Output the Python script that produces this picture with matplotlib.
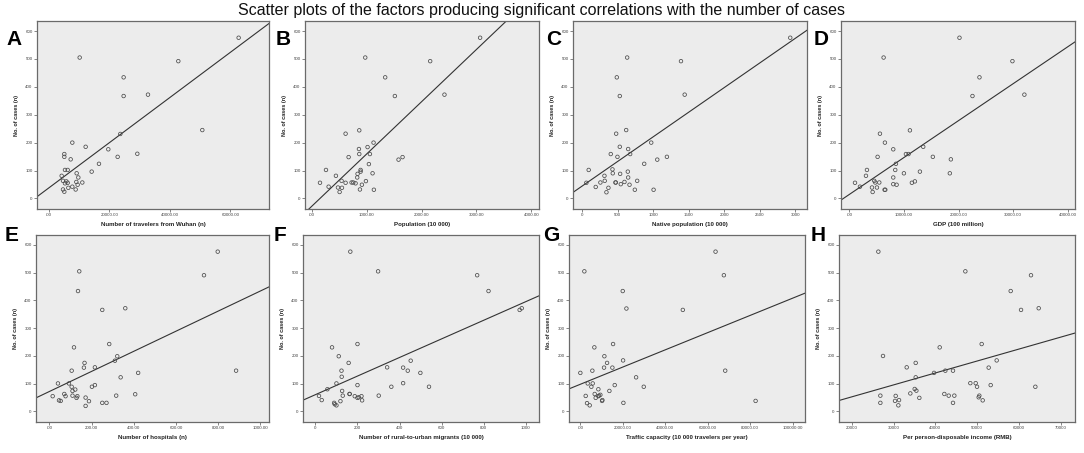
import matplotlib
matplotlib.use("Agg")
import matplotlib.pyplot as plt
import numpy as np

plt.rcParams['font.family'] = ['Liberation Sans', 'DejaVu Sans']

title = "Scatter plots of the factors producing significant correlations with the number of cases"
y_label = "No. of cases (n)"
panel_letters = ["A", "B", "C", "D", "E", "F", "G", "H"]
x_labels = [
    "Number of travelers from Wuhan (n)",
    "Population (10 000)",
    "Native population (10 000)",
    "GDP (100 million)",
    "Number of hospitals (n)",
    "Number of rural-to-urban migrants (10 000)",
    "Traffic capacity (10 000 travelers per year)",
    "Per person-disposable income (RMB)",
]

# ---- Panel A: travelers from Wuhan ----
a_x = [62760, 10150, 42800, 24700, 24700, 32760, 50740, 23600, 7720, 12130, 19630, 5070,
       5070, 7170, 22720, 29230, 16540, 5290, 6180, 14120, 4190, 9150, 9710, 4630, 5740,
       5290, 6180, 9040, 11030, 9480, 7720, 6400, 4630, 8820, 5070]
a_y = [576, 505, 492, 434, 367, 372, 245, 231, 200, 185, 176, 159, 149, 140, 149, 160, 124,
       102, 102, 96, 81, 90, 75, 63, 61, 54, 56, 59, 57, 49, 42, 38, 32, 32, 24]
# ---- Panel B: population ----
b_x = [3067, 976, 2158, 1339, 1515, 2418, 867, 618, 1127, 1018, 861, 867, 673, 1061, 1582,
       1655, 1042, 261, 891, 891, 1109, 442, 836, 830, 152, 545, 618, 727, 758, 800, 988,
       915, 309, 479, 552, 509, 879, 1133]
b_y = [576, 505, 492, 434, 367, 372, 244, 232, 200, 184, 177, 159, 148, 159, 139, 148, 123,
       102, 102, 96, 90, 81, 88, 75, 56, 63, 56, 57, 57, 54, 62, 49, 42, 39, 38, 23, 32, 31]
# ---- Panel C: native population ----
c_x = [2928, 631, 1389, 485, 527, 1441, 617, 476, 970, 527, 645, 400, 673, 494, 1191, 1055,
       871, 89, 424, 428, 311, 640, 532, 645, 56, 254, 315, 466, 471, 593, 772, 541, 664,
       188, 367, 339, 739, 1003]
c_y = [576, 505, 492, 434, 367, 372, 245, 232, 200, 185, 177, 159, 159, 149, 149, 139, 124,
       102, 104, 90, 81, 96, 88, 75, 56, 57, 63, 57, 57, 59, 63, 51, 49, 41, 38, 22, 31, 31]
# ---- Panel D: GDP ----
d_x = [20180, 6280, 29880, 23840, 22560, 32070, 11100, 5610, 6520, 13540, 8050, 5180, 10370,
       10850, 15300, 18600, 8540, 3230, 8410, 3050, 8050, 10000, 12930, 18410, 1040, 1950,
       4570, 5490, 4760, 4150, 5060, 4270, 6460, 6590, 8050, 8660, 11460, 12010]
d_y = [576, 505, 492, 434, 367, 372, 244, 232, 200, 185, 176, 149, 159, 159, 149, 140, 124,
       102, 102, 81, 75, 90, 96, 90, 56, 42, 63, 57, 57, 39, 39, 23, 31, 31, 51, 49, 56, 61]
# ---- Panel E: hospitals ----
e_x = [798, 142, 733, 136, 251, 360, 284, 117, 322, 167, 311, 106, 164, 216, 885, 421, 338,
       41, 93, 106, 123, 110, 202, 216, 16, 71, 77, 110, 133, 129, 172, 317, 407, 46, 54,
       188, 172, 251, 271]
e_y = [576, 505, 491, 434, 366, 372, 243, 231, 199, 175, 183, 147, 158, 159, 147, 139, 123,
       101, 101, 89, 79, 74, 89, 95, 55, 63, 55, 57, 55, 49, 50, 57, 62, 40, 38, 37, 20, 31,
       31]
# ---- Panel F: rural-to-urban migrants ----
f_x = [166, 298, 769, 823, 971, 981, 200, 79, 111, 158, 124, 125, 341, 417, 453, 439, 499,
       100, 417, 200, 57, 127, 361, 540, 17, 130, 162, 163, 187, 200, 206, 219, 301, 30, 119,
       222, 89, 92, 100]
f_y = [576, 505, 491, 434, 366, 372, 243, 231, 199, 175, 147, 125, 159, 158, 183, 147, 139,
       101, 102, 95, 80, 74, 89, 89, 56, 57, 63, 63, 55, 49, 51, 55, 57, 41, 37, 40, 31, 26,
       22]
# ---- Panel G: traffic capacity ----
g_x = [63680, 1890, 67610, 19970, 48270, 21700, 15410, 6600, 11320, 12580, 20130, 5660,
       11160, 15090, 68240, 0, 26260, 3460, 5820, 5190, 16190, 29870, 8490, 13680, 2520,
       6760, 8810, 9430, 7230, 8490, 10220, 10380, 3140, 4400, 20280, 82550]
g_y = [576, 505, 491, 434, 366, 371, 243, 231, 199, 175, 184, 147, 158, 158, 147, 139, 123,
       101, 101, 89, 95, 89, 80, 74, 56, 63, 57, 60, 49, 55, 38, 41, 30, 22, 31, 38]
# ---- Panel H: disposable income ----
h_x = [26370, 47150, 62830, 57980, 60450, 64670, 27480, 41020, 51050, 35290, 33140, 54630,
       52720, 35290, 39670, 42370, 44200, 48340, 49620, 49940, 53200, 63870, 26850, 26850,
       30510, 30350, 31310, 31150, 34010, 35050, 35450, 36160, 42130, 43170, 44520, 44200,
       50490, 50330, 51290]
h_y = [576, 505, 491, 434, 366, 372, 200, 231, 243, 175, 159, 184, 158, 123, 139, 147, 147,
       102, 102, 89, 95, 89, 57, 31, 56, 38, 41, 22, 65, 81, 75, 49, 63, 57, 57, 31, 57, 51,
       40]

xs = [a_x, b_x, c_x, d_x, e_x, f_x, g_x, h_x]
ys = [a_y, b_y, c_y, d_y, e_y, f_y, g_y, h_y]

# fitted line (intercept, slope)
fit_intercepts = [38.1, -28.6, 44.8, 14.2, 71.8, 60.5, 98.0, -33.7]
fit_slopes = [0.00809, 0.1875, 0.1764, 0.01323, 0.3623, 0.3352, 0.003103, 0.004313]

# x ticks and their labels
x_ticks = [
    [0, 20000, 40000, 60000],
    [0, 1000, 2000, 3000, 4000],
    [0, 500, 1000, 1500, 2000, 2500, 3000],
    [0, 10000, 20000, 30000, 40000],
    [0, 200, 400, 600, 800, 1000],
    [0, 200, 400, 600, 800, 1000],
    [0, 20000, 40000, 60000, 80000, 100000],
    [20000, 30000, 40000, 50000, 60000, 70000],
]
x_tick_labels = [
    [".00", "20000.00", "40000.00", "60000.00"],
    [".00", "1000.00", "2000.00", "3000.00", "4000.00"],
    ["0", "500", "1000", "1500", "2000", "2500", "3000"],
    [".00", "10000.00", "20000.00", "30000.00", "40000.00"],
    [".00", "200.00", "400.00", "600.00", "800.00", "1000.00"],
    ["0", "200", "400", "600", "800", "1000"],
    [".00", "20000.00", "40000.00", "60000.00", "80000.00", "100000.00"],
    ["20000", "30000", "40000", "50000", "60000", "70000"],
]
x_limits = [(-3970, 72810), (-121, 4139), (-132, 3164), (-1524, 41340),
            (-63, 1041), (-59, 1063), (-5346, 105820), (16970, 73340)]
y_ticks = [0, 100, 200, 300, 400, 500, 600]
y_limits = (-38, 636)

W, H = 1084, 453
fig = plt.figure(figsize=(W / 100, H / 100), dpi=100)
fig.patch.set_facecolor("white")

# axes rectangles in pixels: left, top, width, height
rects = [
    (37, 21, 232, 188), (305, 21, 234, 188), (573, 21, 234, 188), (841, 21, 234, 188),
    (36, 235, 233, 187), (303, 235, 236, 187), (569, 235, 236, 187), (839, 235, 236, 187),
]
letter_pos = [(6, 45), (276, 45), (546, 45), (814, 45),
              (5, 241), (274, 241), (543, 241), (811, 241)]

for i in range(8):
    l, t, w, h = rects[i]
    ax = fig.add_axes([l / W, 1 - (t + h) / H, w / W, h / H])
    ax.set_facecolor("#ececec")
    ax.scatter(xs[i], ys[i], s=6.5, facecolors="none", edgecolors="#4a4a4a",
               linewidths=0.55, zorder=3)
    ax.axline((0, fit_intercepts[i]), slope=fit_slopes[i], color="#333333", lw=0.8, zorder=2)
    ax.set_xlim(*x_limits[i])
    ax.set_ylim(*y_limits)
    ax.set_xticks(x_ticks[i])
    ax.set_xticklabels(x_tick_labels[i])
    ax.set_yticks(y_ticks)
    ax.set_yticklabels([str(v) for v in y_ticks])
    ax.tick_params(axis="both", length=2, width=0.5, color="#555555", labelsize=3.2,
                   labelcolor="#444444", pad=1.2)
    for sp in ax.spines.values():
        sp.set_color("#6a6a6a")
        sp.set_linewidth(0.9)
    ax.set_xlabel(x_labels[i], fontsize=4.4, fontweight="bold", labelpad=3.5, color="#222222")
    ax.set_ylabel(y_label, fontsize=4.0, fontweight="bold", labelpad=4.5, color="#222222")
    lx, ly = letter_pos[i]
    fig.text(lx / W, 1 - ly / H, panel_letters[i], fontsize=15, fontweight="bold",
             ha="left", va="baseline", color="black")

fig.text(0.5, 1 - 10 / H, title, fontsize=11.5, ha="center", va="center", color="#111111")

fig.savefig("out.png", dpi=100, facecolor="white")
